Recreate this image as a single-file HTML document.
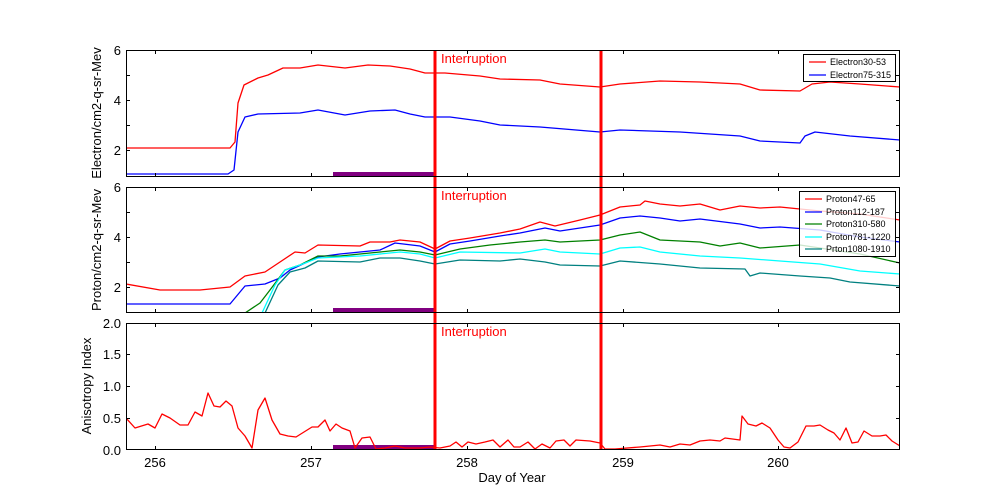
<!DOCTYPE html>
<html><head><style>body{margin:0;background:#fff}svg{display:block}text{font-family:"Liberation Sans",sans-serif;fill:#000}</style></head><body>
<svg width="1000" height="500" xmlns="http://www.w3.org/2000/svg">
<defs>
<clipPath id="c1"><rect x="126" y="50" width="774" height="127"/></clipPath>
<clipPath id="c2"><rect x="126" y="187" width="774" height="126"/></clipPath>
<clipPath id="c3"><rect x="126" y="323" width="774" height="127"/></clipPath>
</defs>
<g fill="none" stroke-width="1.3" stroke-linejoin="round">
<g clip-path="url(#c1)">
<polyline stroke="#f00" points="126,148 230,148 235,142 238,103 244,85 258,78 268,75 283,68 300,68 318,65 345,68 368,65 390,66 410,69 425,73 445,73 480,76 500,79 540,80 560,84 600,87 620,84 660,81 700,82 740,84 760,90 800,91 812,84 830,82 860,84 900,87"/>
<polyline stroke="#00f" points="126,174 228,174 234,170 238,132 245,117 258,114 300,113 318,110 345,115 370,111 395,110 410,114 425,117 450,117 480,121 500,125 540,127 600,132 620,130 680,132 740,136 760,141 800,143 805,136 815,132 850,136 900,140"/>
<rect x="333" y="172" width="102" height="5" fill="#800080" stroke="none"/>
</g>
<g clip-path="url(#c2)">
<polyline stroke="#f00" points="126,284 160,290 200,290 230,287 245,276 265,272 280,262 295,252 305,253 318,245 360,246 370,242 390,242 400,240 420,242 435,249 450,241 470,238 500,233 520,229 540,222 555,226 580,220 600,215 620,207 640,205 645,201 660,204 680,206 700,204 720,210 740,206 760,208 780,207 820,211 860,214 900,220"/>
<polyline stroke="#00f" points="126,304 230,304 245,286 265,284 280,278 290,270 318,257 340,254 360,252 380,250 395,243 420,246 435,252 450,244 470,241 500,236 520,233 545,228 560,231 600,225 620,218 640,216 660,218 680,221 700,219 740,224 760,228 780,227 820,230 860,237 900,242"/>
<polyline stroke="#008000" points="245,313 260,303 270,290 285,270 300,265 318,256 340,256 360,254 380,252 400,250 420,252 435,255 460,249 490,245 520,242 545,240 560,242 600,240 620,235 640,232 660,240 700,242 720,246 740,243 760,248 800,245 860,254 900,263"/>
<polyline stroke="#0ff" points="262,313 275,285 285,270 300,265 318,258 360,256 400,252 420,254 435,258 460,252 520,253 545,249 560,252 600,254 620,248 640,247 660,252 700,256 740,258 780,261 820,264 860,271 900,274"/>
<polyline stroke="#008080" points="265,313 278,285 290,272 305,268 318,261 360,262 380,258 400,258 420,261 435,264 460,260 500,261 520,259 545,262 560,265 600,266 620,261 660,264 700,268 745,269 750,276 760,273 800,276 830,278 850,282 900,286"/>
<rect x="333" y="308" width="102" height="5" fill="#800080" stroke="none"/>
</g>
<g clip-path="url(#c3)">
<rect x="333" y="445" width="102" height="5" fill="#800080" stroke="none"/>
<polyline stroke="#f00" points="126,418 135,428 148,424 155,428 162,414 170,418 180,425 188,425 195,412 202,416 208,393 214,406 220,407 226,401 232,406 238,428 245,436 252,448 258,410 265,398 272,420 280,434 288,436 296,437 304,432 312,427 318,427 325,420 330,431 336,424 342,428 350,431 355,448 362,438 370,437 376,449 385,448 395,446 405,448 420,448 430,447 440,448 450,446 456,442 462,447 468,442 476,444 485,442 493,440 500,447 508,440 514,447 520,447 528,442 535,449 542,444 550,448 556,441 564,440 570,446 576,440 590,441 600,443 605,449 615,449 640,447 660,445 670,447 680,444 690,445 700,441 710,440 720,441 725,438 740,440 742,416 748,424 756,426 762,423 770,428 778,440 784,447 790,448 798,442 806,426 814,426 820,425 828,430 834,433 840,440 846,428 852,443 858,442 864,431 872,436 880,436 886,435 892,441 900,446"/>
</g>
</g>
<g stroke="#f00" stroke-width="3">
<line x1="435" y1="50" x2="435" y2="450"/><line x1="601" y1="50" x2="601" y2="450"/>
</g>
<g fill="#f00" font-size="13"><text x="441" y="63" style="fill:#f00">Interruption</text><text x="441" y="200" style="fill:#f00">Interruption</text><text x="441" y="336" style="fill:#f00">Interruption</text></g>
<g fill="none" stroke="#000" stroke-width="1">
<rect x="126.5" y="50.5" width="773" height="126"/>
<rect x="126.5" y="187.5" width="773" height="125"/>
<rect x="126.5" y="323.5" width="773" height="126"/>
<path d="M155.5,50v4M311.5,50v4M467.5,50v4M623.5,50v4M778.5,50v4M155.5,177v-4M311.5,177v-4M467.5,177v-4M623.5,177v-4M778.5,177v-4
M155.5,187v4M311.5,187v4M467.5,187v4M623.5,187v4M778.5,187v4M155.5,313v-4M311.5,313v-4M467.5,313v-4M623.5,313v-4M778.5,313v-4
M155.5,323v4M311.5,323v4M467.5,323v4M623.5,323v4M778.5,323v4M155.5,450v-4M311.5,450v-4M467.5,450v-4M623.5,450v-4M778.5,450v-4
M126,75.5h4M126,100.5h4M126,125.5h4M126,150.5h4M900,75.5h-4M900,100.5h-4M900,125.5h-4M900,150.5h-4
M126,212.5h4M126,237.5h4M126,262.5h4M126,287.5h4M900,212.5h-4M900,237.5h-4M900,262.5h-4M900,287.5h-4
M126,354.5h4M126,386.5h4M126,418.5h4M900,354.5h-4M900,386.5h-4M900,418.5h-4"/>
</g>
<g font-size="13" text-anchor="end">
<text x="121" y="55">6</text><text x="121" y="105">4</text><text x="121" y="155">2</text>
<text x="121" y="192">6</text><text x="121" y="242">4</text><text x="121" y="292">2</text>
<text x="121" y="328">2.0</text><text x="121" y="359">1.5</text><text x="121" y="391">1.0</text><text x="121" y="423">0.5</text><text x="121" y="455">0.0</text>
</g>
<g font-size="13" text-anchor="middle">
<text x="155" y="467">256</text><text x="311" y="467">257</text><text x="467" y="467">258</text><text x="623" y="467">259</text><text x="778" y="467">260</text>
<text x="512" y="482">Day of Year</text>
<text transform="translate(101,113) rotate(-90)">Electron/cm2-q-sr-Mev</text>
<text transform="translate(101,250) rotate(-90)">Proton/cm2-q-sr-Mev</text>
<text transform="translate(91,386) rotate(-90)">Anisotropy Index</text>
</g>
<g font-size="9">
<rect x="803.5" y="54.5" width="92" height="27" fill="#fff" stroke="#000"/>
<line x1="809" y1="62" x2="826" y2="62" stroke="#f00" stroke-width="1.3"/><text x="830" y="65">Electron30-53</text>
<line x1="809" y1="75" x2="826" y2="75" stroke="#00f" stroke-width="1.3"/><text x="830" y="78">Electron75-315</text>
<rect x="799.5" y="191.5" width="96" height="65" fill="#fff" fill-opacity="0.8" stroke="#000"/>
<line x1="805" y1="199" x2="822" y2="199" stroke="#f00" stroke-width="1.3"/><text x="826" y="202">Proton47-65</text>
<line x1="805" y1="212" x2="822" y2="212" stroke="#00f" stroke-width="1.3"/><text x="826" y="215">Proton112-187</text>
<line x1="805" y1="224" x2="822" y2="224" stroke="#008000" stroke-width="1.3"/><text x="826" y="227">Proton310-580</text>
<line x1="805" y1="237" x2="822" y2="237" stroke="#0ff" stroke-width="1.3"/><text x="826" y="240">Proton781-1220</text>
<line x1="805" y1="249" x2="822" y2="249" stroke="#008080" stroke-width="1.3"/><text x="826" y="252">Prton1080-1910</text>
</g>
</svg>
</body></html>
